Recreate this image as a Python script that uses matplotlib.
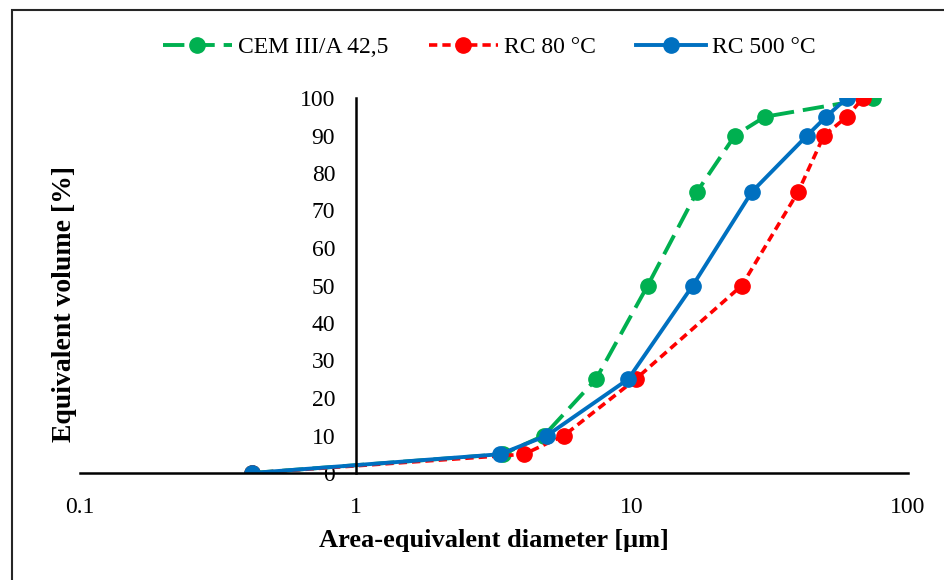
import numpy as np
import matplotlib
matplotlib.use('Agg')
import matplotlib.pyplot as plt
from matplotlib.patches import Rectangle

plt.rcParams['font.family'] = ['Liberation Serif', 'DejaVu Serif']

# Data
volume = [0, 5, 10, 25, 50, 75, 90, 95, 100]
cem_d = [0.42, 3.4, 4.8, 7.4, 11.4, 17.2, 23.6, 30.3, 74.7]
rc80_d = [0.42, 4.06, 5.67, 10.3, 25.0, 40.0, 49.6, 60.1, 68.7]
rc500_d = [0.42, 3.32, 4.92, 9.68, 16.6, 27.2, 43.1, 50.5, 60.1]

labels = ['CEM III/A 42,5', 'RC 80 °C', 'RC 500 °C']
colors = ['#00B050', '#FF0000', '#0070C0']

fig = plt.figure(figsize=(9.44, 5.8), dpi=100)
ax = fig.add_axes([80/944, 107/580, 828/944, 375/580])

ax.plot(cem_d, volume, color=colors[0], lw=2.8, dashes=(5.5, 2.3), marker='o', ms=11,
        label=labels[0])
ax.plot(rc80_d, volume, color=colors[1], lw=2.6, dashes=(2.3, 1.4), marker='o', ms=11,
        label=labels[1])
ax.plot(rc500_d, volume, color=colors[2], lw=2.8, marker='o', ms=11, label=labels[2])

ax.set_xscale('log')
ax.set_xlim(0.1, 100)
ax.set_ylim(0, 100)
ax.set_xticks([0.1, 1, 10, 100])
ax.set_xticklabels(['0.1', '1', '10', '100'])
ax.xaxis.set_minor_locator(matplotlib.ticker.NullLocator())
ax.set_yticks(range(0, 101, 10))

ax.spines['left'].set_position(('data', 1))
ax.spines['top'].set_visible(False)
ax.spines['right'].set_visible(False)
for s in ['left', 'bottom']:
    ax.spines[s].set_linewidth(1.8)
ax.tick_params(axis='both', length=0, labelsize=17, colors='black')
ax.tick_params(axis='y', pad=15)
ax.tick_params(axis='x', pad=17)

fig.text(494/944, 1 - 540/580, 'Area-equivalent diameter [μm]', fontsize=19,
         fontweight='bold', ha='center', va='center')
fig.text(65/944, 1 - 304/580, 'Equivalent volume [%]', rotation=90, fontsize=20,
         fontweight='bold', ha='center', va='center')

fig.legend(loc='center', bbox_to_anchor=(489/944, 1 - 47/580), ncol=3, frameon=False,
           fontsize=17, handlelength=2.95, columnspacing=1.7, handletextpad=0.25,
           borderpad=0, borderaxespad=0)

fig.patches.append(Rectangle((12/944, -0.05), 1.0, 1 - 10/580 + 0.05, transform=fig.transFigure,
                             fill=False, edgecolor='#262626', linewidth=1.5))

fig.savefig('out.png', dpi=100)
